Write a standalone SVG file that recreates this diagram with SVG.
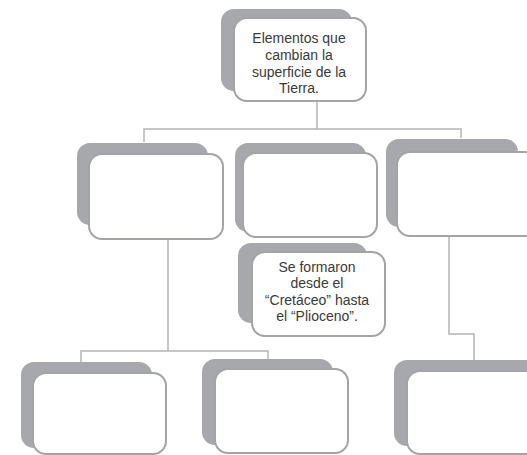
<svg xmlns="http://www.w3.org/2000/svg" width="527" height="455" viewBox="0 0 527 455">
<style>
.sh{fill:#a7a8ab}
.bx{fill:#fff;stroke:#a3a4a7;stroke-width:2}
.ln{fill:none;stroke:#b3b4b7;stroke-width:1.5}
text{font-family:"Liberation Sans",Arial,sans-serif;font-size:14px;fill:#3a3a3a;text-anchor:middle}
</style>
<rect width="527" height="455" fill="#fff"/>
<g id="connectors">
<path class="ln" d="M317 101V129M144 142V129H461V138"/>
<path class="ln" d="M168 239V351M81 362V351H268V359"/>
<path class="ln" d="M449 236V334H474V360"/>
</g>
<g id="n-top">
<rect class="sh" x="221" y="9" width="131" height="82" rx="13"/>
<rect class="bx" x="234" y="18" width="132" height="83" rx="13"/>
<text x="299" y="43">Elementos que</text>
<text x="299" y="60">cambian la</text>
<text x="299" y="77">superficie de la</text>
<text x="299" y="93">Tierra.</text>
</g>
<g id="n-left">
<rect class="sh" x="77" y="143" width="131" height="82" rx="13"/>
<rect class="bx" x="89" y="154" width="134" height="85" rx="13"/>
</g>
<g id="n-center">
<rect class="sh" x="235" y="143" width="131" height="89" rx="13"/>
<rect class="bx" x="243" y="153" width="134" height="84" rx="13"/>
</g>
<g id="n-right">
<rect class="sh" x="386" y="139" width="132" height="88" rx="13"/>
<rect class="bx" x="397" y="152" width="140" height="84" rx="13"/>
</g>
<g id="n-note">
<rect class="sh" x="238" y="243" width="129" height="80" rx="13"/>
<rect class="bx" x="252" y="252" width="133" height="84" rx="13"/>
<text x="317" y="272">Se formaron</text>
<text x="317" y="288">desde el</text>
<text x="317" y="305">“Cretáceo” hasta</text>
<text x="317" y="321">el “Plioceno”.</text>
</g>
<g id="n-bl">
<rect class="sh" x="21" y="362" width="131" height="86" rx="13"/>
<rect class="bx" x="33" y="373" width="133" height="81" rx="13"/>
</g>
<g id="n-bc">
<rect class="sh" x="202" y="359" width="131" height="86" rx="13"/>
<rect class="bx" x="215" y="369" width="133" height="84" rx="13"/>
</g>
<g id="n-br">
<rect class="sh" x="394" y="360" width="145" height="86" rx="13"/>
<rect class="bx" x="407" y="371" width="135" height="83" rx="13"/>
</g>
</svg>
